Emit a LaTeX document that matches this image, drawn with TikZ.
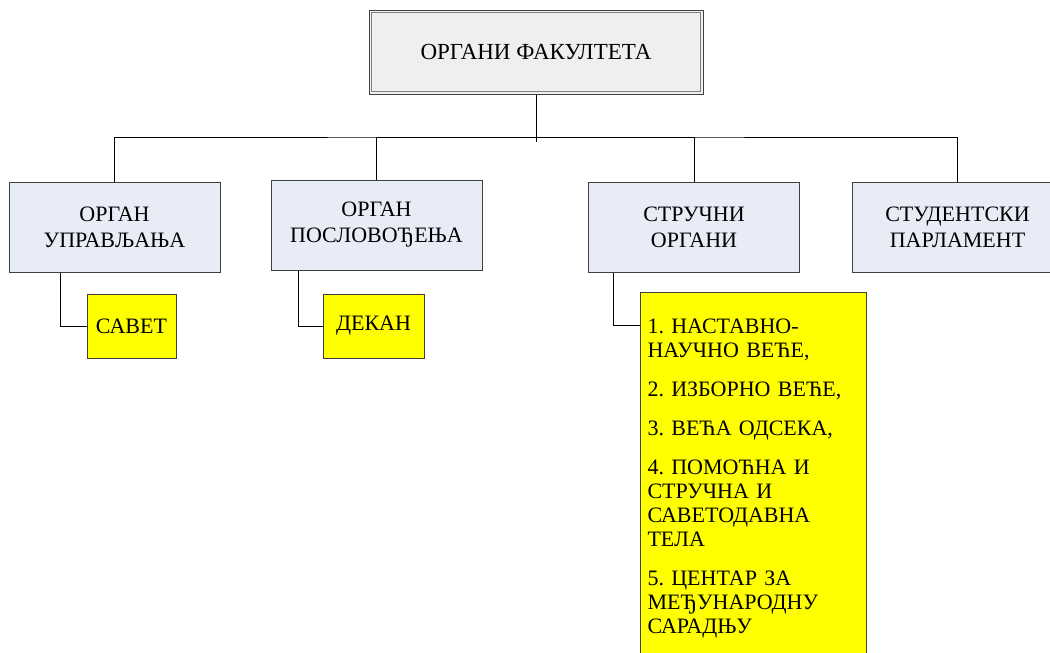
\documentclass[tikz,border=0pt]{standalone}
\usepackage{fontspec}
\setmainfont{Liberation Serif}
\usetikzlibrary{calc}
\definecolor{headgray}{HTML}{EFEFEF}
\definecolor{organblue}{HTML}{E8ECF7}
\definecolor{edgegray}{HTML}{404040}
\definecolor{memberyellow}{RGB}{255,255,0}
\frenchspacing

\begin{document}
\begin{tikzpicture}[x=1pt,y=-1pt,
    organ/.style={draw=edgegray, line width=1pt, fill=organblue, minimum width=211pt,
      minimum height=90pt, align=center, font=\fontsize{22}{26}\selectfont},
    member/.style={draw=edgegray, line width=1pt, fill=memberyellow, minimum height=64pt,
      font=\fontsize{22}{24}\selectfont},
    link/.style={draw=black, line width=1pt}]
      % Frame
      \clip (0,0) rectangle (1050,653);

      % Head
      \node[draw=edgegray, line width=1pt, fill=headgray, minimum width=334pt, minimum height=84pt,
        font=\fontsize{23}{24}\selectfont] (head) at (536,52) {ОРГАНИ ФАКУЛТЕТА};
      \draw[gray, line width=0.8pt] ($(head.south west)+(3,-3)$) rectangle ($(head.north east)+(-3,3)$);

      % Organs
      \node[organ] (upr) at (114.5,227) {ОРГАН\\УПРАВЉАЊА};
      \node[organ] (posl) at (376.5,225) {ОРГАН\\ПОСЛОВОЂЕЊА};
      \node[organ] (struc) at (694,227) {СТРУЧНИ\\ОРГАНИ};
      \node[organ] (stud) at (957.5,227) {СТУДЕНТСКИ\\ПАРЛАМЕНТ};

      % Bus
      \coordinate (bus) at (536,137);
      \draw[link] (head.south) -- ($(bus)+(0,5)$);
      \draw[link] (upr.north) |- (bus) -| (stud.north);
      \foreach \n in {posl,struc}
      {
        \draw[link] (\n.north) |- (bus);
      }

      % Members
      \node[member, minimum width=89pt] (savet) at (131.5,326) {САВЕТ};
      \node[member, minimum width=101pt] (dekan) at (373.5,326) {ДЕКАН};
      \node[member, anchor=north west, align=left, text width=212pt, inner xsep=7pt, inner ysep=14pt,
        text height=27pt, text depth=340pt] (list) at (640,292)
        {1. НАСТАВНО-\\НАУЧНО ВЕЋЕ,\\[15pt]
         2. ИЗБОРНО ВЕЋЕ,\\[15pt]
         3. ВЕЋА ОДСЕКА,\\[15pt]
         4. ПОМОЋНА И\\СТРУЧНА И\\САВЕТОДАВНА\\ТЕЛА\\[15pt]
         5. ЦЕНТАР ЗА\\МЕЂУНАРОДНУ\\САРАДЊУ};

      % Member links
      \draw[link] ($(upr.south west)+(52,0)$) |- (savet.west);
      \draw[link] ($(posl.south west)+(28,0)$) |- (dekan.west);
      \draw[link] ($(struc.south west)+(25,0)$) |- ($(list.north west)+(0,33)$);
  \end{tikzpicture}
\end{document}
